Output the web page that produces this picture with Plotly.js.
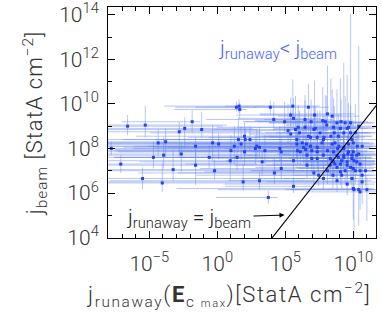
<!DOCTYPE html>
<html><head><meta charset="utf-8">
<script src="https://cdn.plot.ly/plotly-3.0.1.min.js"></script>
<style>html,body{margin:0;padding:0;background:#fff}#chart{width:382px;height:312px}</style>
</head><body><div id="chart"></div>
<script>
// log10 of j_runaway (x) and j_beam (y)
const logJrun = [
-7.8,-7.1,-6.6,-5.5,-5.3,-4.7,-4.35,-4.05,-3.95,-3.8,
-3.25,-2.8,-2.65,-2.4,-1.85,-1.6,-1.6,-1.15,-0.6,-0.35,
-0.2,0.1,0.95,1.0,1.25,1.4,1.6,1.65,1.45,1.55,
1.75,1.9,2.0,2.05,2.0,2.4,2.8,2.9,3.1,3.5,
3.3,3.1,3.9,4.15,4.2,3.75,4.6,4.7,4.7,4.95,
5.2,5.4,5.55,5.4,5.6,5.75,6.05,5.85,5.9,6.1,
6.25,6.45,6.5,6.55,6.6,6.7,6.7,6.85,6.9,6.95,
6.95,7.1,7.15,7.2,7.35,7.35,7.45,7.55,7.7,7.75,
7.8,7.8,7.85,8.05,8.1,8.1,8.1,8.3,8.3,8.35,
8.45,8.45,8.5,8.55,8.55,8.6,8.65,8.65,8.8,8.8,
8.85,8.9,8.9,8.95,9.05,9.05,9.05,9.1,9.15,9.15,
9.3,9.3,9.3,9.4,9.4,9.55,9.55,9.55,9.6,9.65,
9.8,9.8,9.8,9.9,9.9,10.0,10.0,10.0,10.05,10.05,
10.15,10.15,10.25,10.3,10.4,10.4,10.4,10.5,10.5,10.5,
10.65,10.65,10.65,10.9,11.0,
5.6,6.45,7.95,5.95,7.1,8.55,9.65,6.85,7.8,9.9,
5.85,6.35,7.35,9.3,9.65,8.8,9.3,9.9,8.45,10.25,
9.55,8.8,10.0,5.6,6.6,7.35];
const logJbeam = [
8.0,7.3,9.0,6.65,9.05,7.6,8.25,6.45,7.7,8.3,
7.05,8.75,7.75,8.9,9.2,8.1,7.25,8.85,7.6,8.25,
7.0,8.2,7.45,7.9,8.1,9.85,9.9,9.75,7.6,8.4,
8.2,6.5,8.55,8.4,7.85,8.4,8.0,8.1,8.05,7.9,
7.4,6.55,9.85,9.3,6.9,5.8,8.0,7.85,7.1,9.2,
8.8,9.5,9.9,8.65,6.3,8.85,8.7,8.4,7.9,7.85,
8.25,8.95,7.95,8.2,7.7,9.85,8.55,8.1,9.2,7.9,
7.55,6.9,9.5,8.9,8.5,7.85,6.8,8.7,8.25,9.25,
7.7,6.65,8.5,9.05,9.55,7.9,7.0,7.55,7.25,8.55,
9.45,8.2,6.8,7.85,7.4,8.7,8.25,7.3,9.15,6.55,
8.0,8.55,7.6,8.1,8.9,7.3,6.95,9.2,7.45,6.8,
8.7,8.05,7.7,9.15,7.0,8.9,7.4,6.4,7.75,8.2,
9.15,8.7,7.15,7.7,6.65,6.2,8.25,7.85,7.45,6.15,
8.7,7.0,7.7,8.1,9.0,7.75,6.15,7.3,7.0,6.05,
8.1,6.8,6.5,7.0,6.15,
9.35,9.3,9.2,8.95,8.85,8.95,8.95,8.5,8.4,8.4,
8.2,8.05,8.05,8.0,7.85,7.7,7.6,7.55,7.45,7.4,
7.25,7.15,7.1,7.45,7.25,7.55];
// error bar extents, in decades below / above each value
const jrunDecLow = [
2,3,3,4,4,5,5,5,6,6,
6,7,6,7,5.2,8,7,8,7,8,
8,9,9,9,10,3,5.5,4.8,9,10,
10,10,8,9,10,7,9,8,10,11,
9,11,7,5,10,3.85,4,12,6,3,
8,4,5,3,5,6,11,2.5,4,9,
3,5,14,4,7,4,3,13,5,3,
6,10,4,3,8,2.5,9,4,12,5,
3,6,4,3,5,11,4,3,7,5,
4,13,3,6,9,3,4,11,5,8,
3,6,12,4,3,5,10,4,3,6,
5,14,3,4,7,4,3,9,5,12,
6,3,4,8,5,13,4,3,6,10,
4,5,3,11,4,6,5,3,8,4,
5,3,7,4,6,
4,3,5,6,3,4,3,9,4,5,
3,10,4,3,6,4,12,3,5,4,
3,6,4,5,3,8];
const jrunDecHigh = [
9,10,7,12,6,8,9,14,7,10,
9,6,8,5,0.6,9,10,4,8,7,
9,6,9,5,6,1.5,4,0.5,7,5,
7,8,6,6,7,6,6,5,7,6,
6,4,1.5,3,5,0.7,4,5,5,2,
3,2,2,4,1.5,3,3,4,4,3,
3,3,3,3,4,1.5,3,3,2,3,
3,3,2,3,3,3,3,2,3,2,
3,2.5,3,2,2,3,3,3,3,3,
2,3,3,2.5,3,2.5,2.5,3,2,2.5,
2.5,2.5,2.5,2.5,2,2.5,2.5,2,2.5,2,
2,2,2,2,2,2,2,2,2,2,
1.8,1.8,2,1.8,1.8,1.5,1.5,1.5,1.5,1.5,
1.5,1.5,1.4,1.4,1.3,1.3,1.3,1.2,1.2,1.2,
1.0,1.0,1.0,0.8,0.7,
2,2,2,3,2.5,2,2,3,2.5,1.8,
3,3,3,2,2,2,2,1.8,2.5,1.4,
2,2,1.5,3,3,3];
const jbeamDecLow = [
.3,.4,.4,.5,.55,.5,.6,.4,.6,.7,
.5,1.1,.8,.9,.5,.9,.9,.35,.5,.8,
.4,.7,.9,.6,.8,.2,.3,.4,.6,.5,
.7,.4,.6,.7,.6,.5,.7,.6,.5,.6,
.6,.4,.3,.5,.5,.3,.6,.7,.5,.5,
.6,.5,.4,.7,.3,.6,.7,.8,.6,.6,
.7,.6,.7,.6,.5,.4,.8,.6,.5,.7,
.6,.5,.5,.6,.7,.6,.5,.7,.7,.5,
.6,.5,.8,.6,.5,.6,.6,.7,.6,.7,
.6,.7,.6,.6,.7,.7,.7,.6,.6,.5,
.7,.7,.6,.7,.6,.6,.6,.5,.7,.6,
.7,.7,.6,.6,.6,.7,.7,.5,.7,.7,
.6,.7,.6,.7,.5,1.4,.7,.7,.6,2.1,
.7,.6,.7,.7,.6,.7,1.6,.6,.6,.8,
.7,.6,1.0,.7,1.4,
.5,.5,.6,.6,.6,.6,.6,.7,.7,.7,
.7,.7,.7,.7,.7,.6,.6,.6,.6,.6,
.6,.6,.6,.6,.6,.6];
const jbeamDecHigh = [
.3,.4,.5,.5,.85,.7,.6,.9,.8,.6,
.9,.45,.5,.5,.5,.4,.6,.8,.5,.8,
.5,.5,.3,.7,.9,.25,.3,.3,.6,1.0,
.8,.8,.6,.5,.7,.6,.6,.8,.9,.7,
.5,.4,.3,.8,.7,.3,1.0,.6,.6,.9,
1.2,.8,1.2,1.0,.4,1.5,1.0,1.0,.8,.7,
.9,1.2,.6,1.0,.8,1.05,.9,.8,1.0,.6,
.7,.6,1.55,1.0,1.2,.8,.6,1.0,.9,1.5,
.7,.6,1.0,1.3,2.15,.8,.6,.7,.6,2.6,
1.2,.8,.6,.8,.7,1.2,.9,.6,1.5,.5,
.9,1.0,.8,.9,2.25,.7,.6,1.0,.8,.6,
3.15,.9,.8,1.2,.7,2.4,.8,.6,.9,1.0,
4.9,1.2,.7,.9,.6,.6,1.0,.9,.8,.5,
1.3,.7,.9,1.0,3.6,.9,.5,.8,.6,.5,
.9,.6,.6,.7,.6,
.9,1.1,1.2,1.0,1.1,1.3,1.1,.9,.9,1.0,
.8,.8,.8,.9,.8,.8,.7,.7,.7,.7,
.7,.6,.6,.6,.6,.7];
// equality-line end points (log10)
const lineLogX = [3.9, 12.0];
const lineLogY = [3.887, 10.165];
// tick labels
const xTickPow = [-5, 0, 5, 10];
const xTickText = ['10<sup>\u22125</sup>','10<sup>0</sup>','10<sup>5</sup>','10<sup>10</sup>'];
const yTickPow = [4, 6, 8, 10, 12, 14];
const yTickText = ['10<sup>4</sup>','10<sup>6</sup>','10<sup>8</sup>','10<sup>10</sup>','10<sup>12</sup>','10<sup>14</sup>'];

const p10 = v => Math.pow(10, v);
const xs = logJrun.map(p10), ys = logJbeam.map(p10);
const exP = logJrun.map((v,i)=>p10(v+jrunDecHigh[i])-p10(v));
const exM = logJrun.map((v,i)=>p10(v)-p10(v-jrunDecLow[i]));
const eyP = logJbeam.map((v,i)=>p10(v+jbeamDecHigh[i])-p10(v));
const eyM = logJbeam.map((v,i)=>p10(v)-p10(v-jbeamDecLow[i]));

const FONT = 'Roboto, "DejaVu Sans", sans-serif';
const TXT = '#333';
const barCol = 'rgba(100,130,240,0.45)';

const traces = [
 {type:'scatter', mode:'markers', x:xs, y:ys,
  marker:{size:3, symbol:'square', color:'rgb(35,65,245)', line:{width:0}},
  error_x:{type:'data', symmetric:false, array:exP, arrayminus:exM, color:barCol, thickness:1, width:0},
  error_y:{type:'data', symmetric:false, array:eyP, arrayminus:eyM, color:barCol, thickness:1, width:0},
  hoverinfo:'skip', showlegend:false},
 {type:'scatter', mode:'lines', x:lineLogX.map(p10), y:lineLogY.map(p10),
  line:{color:'#000', width:1.1}, hoverinfo:'skip', showlegend:false}
];

const axisCommon = {type:'log', showgrid:false, zeroline:false, showline:true, linecolor:'#000', linewidth:1,
  mirror:'allticks', ticks:'inside', ticklen:7, tickwidth:1, tickcolor:'#000', tickmode:'array',
  ticklabeloverflow:'allow',
  tickfont:{family:FONT, size:21, color:TXT, weight:300},
  minor:{ticks:'inside', ticklen:4, tickwidth:1, tickcolor:'#000', tickmode:'linear', tick0:0, dtick:1, showgrid:false}};

const xTitle = '<span style="letter-spacing:1.6px">j<sub>runaway</sub>(<b>E</b><sub>c <span style="font-size:11px">max</span></sub>)[StatA cm<sup>\u22122</sup>]</span>';

const layout = {
 width:382, height:312, margin:{l:108, r:6, t:7, b:74},
 paper_bgcolor:'#fff', plot_bgcolor:'#fff',
 font:{family:FONT, color:TXT, weight:300},
 xaxis:Object.assign({}, axisCommon, {range:[-8.04, 11.67], tickvals:xTickPow.map(p10), ticktext:xTickText,
   ticklabelstandoff:7}),
 yaxis:Object.assign({}, axisCommon, {range:[3.98, 14.35], tickvals:yTickPow.map(p10), ticktext:yTickText,
   ticklabelstandoff:4,
   title:{text:'<span style="letter-spacing:1px">j<sub>beam</sub> [StatA cm<sup>\u22122</sup>]</span>', font:{family:FONT, size:22, color:TXT, weight:300}, standoff:10}}),
 annotations:[
  {xref:'paper', yref:'paper', x:0.451, y:-0.247, xanchor:'center', yanchor:'middle', showarrow:false,
   text:xTitle, font:{family:FONT, size:22, color:TXT, weight:300}},
  {xref:'paper', yref:'paper', x:0.634, y:0.815, xanchor:'center', yanchor:'middle', showarrow:false,
   text:'j<sub>runaway</sub>&lt; j<sub>beam</sub>', font:{family:FONT, size:21, color:'rgb(70,100,255)', weight:300}},
  {xref:'x', yref:'y', x:4.94, y:5.01, ax:-96, ay:3, xanchor:'center', yanchor:'middle',
   text:'j<sub>runaway</sub> = j<sub>beam</sub>', font:{family:FONT, size:21, color:'#222', weight:300},
   showarrow:true, arrowhead:2, arrowsize:1, arrowwidth:1, arrowcolor:'#000', standoff:0, startstandoff:1}
 ]
};
Plotly.newPlot('chart', traces, layout, {displayModeBar:false, staticPlot:true});
</script></body></html>
